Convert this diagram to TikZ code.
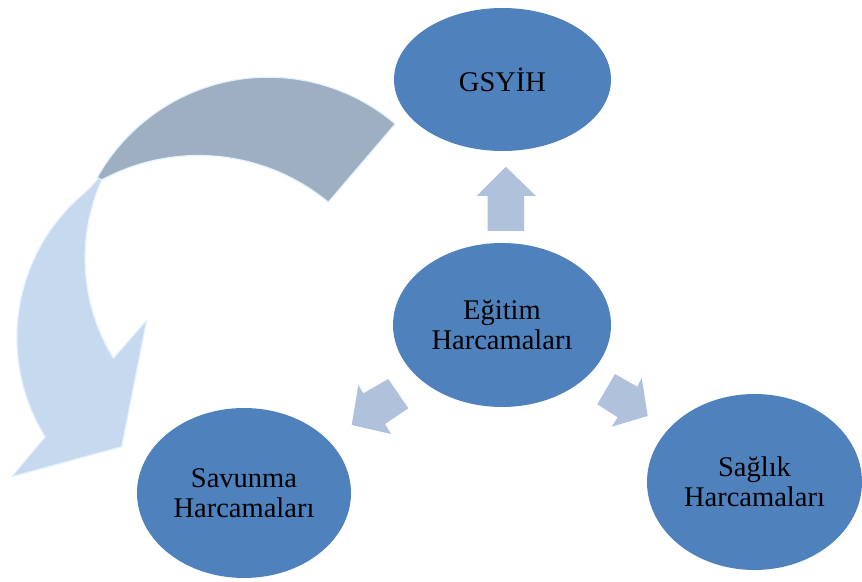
\documentclass[tikz,border=0pt]{standalone}
\usepackage{fontspec}
\setmainfont{Liberation Serif}
\usetikzlibrary{shapes.geometric}
\definecolor{ellblue}{HTML}{4F81BD}
\definecolor{smallarr}{HTML}{B0C1DC}
\definecolor{grayband}{HTML}{9EAFC1}
\definecolor{lightband}{HTML}{C6D9EF}
\definecolor{bandedge}{HTML}{E4F2FF}
\tikzset{
  ell/.style={ellipse, fill=ellblue, inner sep=0pt, align=center,
    font=\fontsize{28.5}{30}\selectfont, text=black},
  blockarrow/.style={fill=smallarr},
  bandlight/.style={fill=lightband, draw=bandedge, line width=1.2pt, line join=round},
  bandgray/.style={fill=grayband, draw=bandedge, line width=1.2pt, line join=round},
}
\begin{document}
\begin{tikzpicture}[x=1pt,y=1pt]
\useasboundingbox (0,0) rectangle (862,581);
% curved arrow, light blue part
\filldraw[bandlight]
  (45.2,144.1) arc[start angle=211.8, end angle=130.2, radius=188.5]
  .. controls (100.5,402) and (115,425) .. (128,444)
  -- (101.7,401) arc[start angle=155.9, end angle=211.6, radius=191.3]
  -- (146.7,261) -- (121.7,134.3) -- (11.7,104.3) -- cycle;
% curved arrow, gray part
\filldraw[bandgray]
  (395.3,457.1) arc[start angle=49.6, end angle=150.8, radius=196]
  -- (101.7,401) arc[start angle=118.4, end angle=50.4, radius=203.6]
  -- cycle;
% small block arrows
\fill[blockarrow] (487.7,350) -- (524,350) -- (524,385) -- (536,385) -- (505.8,414.3) -- (476.7,385) -- (487.7,385) -- cycle;
\fill[blockarrow] (388.3,202) -- (363.3,187.7) -- (358.3,196) -- (351.7,156) -- (391,147) -- (385,157) -- (408.3,172.7) -- cycle;
\fill[blockarrow] (615,207) -- (637.3,194.3) -- (641.7,203.3) -- (647.7,165) -- (611.7,154.3) -- (617.7,163.7) -- (597.3,176.7) -- cycle;
% ellipses
\node[ell, minimum width=217pt, minimum height=143pt] (gsyih) at (502.5,501.5) {GSYİH};
\node[ell, minimum width=218pt, minimum height=164pt] (egitim) at (502,256) {Eğitim\\Harcamaları};
\node[ell, minimum width=214pt, minimum height=170pt] (savunma) at (244,88) {Savunma\\Harcamaları};
\node[ell, minimum width=215pt, minimum height=176pt] (saglik) at (754.5,99) {Sağlık\\Harcamaları};
\end{tikzpicture}
\end{document}
